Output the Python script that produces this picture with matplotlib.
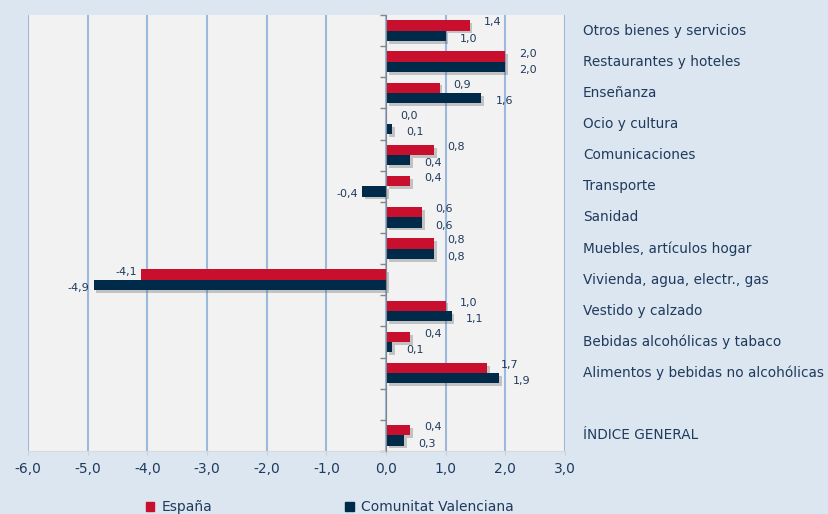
import matplotlib
matplotlib.use("Agg")
import matplotlib.pyplot as plt
import matplotlib.patheffects as pe
from matplotlib.patches import Patch
import numpy as np

categories = ["Otros bienes y servicios", "Restaurantes y hoteles", "Enseñanza",
              "Ocio y cultura", "Comunicaciones", "Transporte", "Sanidad",
              "Muebles, artículos hogar", "Vivienda, agua, electr., gas",
              "Vestido y calzado", "Bebidas alcohólicas y tabaco",
              "Alimentos y bebidas no alcohólicas", "ÍNDICE GENERAL"]
espana = [1.4, 2.0, 0.9, 0.0, 0.8, 0.4, 0.6, 0.8, -4.1, 1.0, 0.4, 1.7, 0.4]
cvalenciana = [1.0, 2.0, 1.6, 0.1, 0.4, -0.4, 0.6, 0.8, -4.9, 1.1, 0.1, 1.9, 0.3]
series_names = ["España", "Comunitat Valenciana"]
xticks = [-6, -5, -4, -3, -2, -1, 0, 1, 2, 3]

RED = "#C8102E"
NAVY = "#002A4A"
TXT = "#1F3A5C"
BG = "#DCE6F1"
PLOT_BG = "#F2F2F2"
GRID = "#9DB8DD"

plt.rcParams['font.family'] = ['DejaVu Sans']

fig = plt.figure(figsize=(8.29, 5.14), dpi=100, facecolor=BG)
ax = fig.add_axes([28/829, 1-451/514, (565-28)/829, (451-15)/514])
ax.set_facecolor(PLOT_BG)

# positions: one empty slot before ÍNDICE GENERAL
pos = np.array(list(range(12)) + [13], dtype=float)
h = 0.33

shadow = [pe.SimplePatchShadow(offset=(2, -2), alpha=0.3, shadow_rgbFace="#555555"), pe.Normal()]

b1 = ax.barh(pos - h/2, espana, height=h, color=RED, zorder=3)
b2 = ax.barh(pos + h/2, cvalenciana, height=h, color=NAVY, zorder=3)
for bars in (b1, b2):
    for r in bars:
        r.set_path_effects(shadow)

def fmt(v):
    return f"{v:.1f}".replace(".", ",")

for vals, p, dy in ((espana, pos - h/2, 2.2), (cvalenciana, pos + h/2, -2.2)):
    for v, y in zip(vals, p):
        if v >= 0:
            ax.annotate(fmt(v), (v, y), xytext=(10, dy), textcoords="offset points",
                        ha="left", va="center", fontsize=8, color=TXT, zorder=5)
        else:
            ax.annotate(fmt(v), (v, y), xytext=(-3, dy), textcoords="offset points",
                        ha="right", va="center", fontsize=8, color=TXT, zorder=5)

ax.set_xlim(-6, 3)
ax.set_ylim(13.5, -0.5)
ax.set_xticks(xticks)
ax.set_xticklabels([fmt(x) for x in xticks], fontsize=10, color=TXT)
ax.tick_params(axis="x", length=3, color="#D0D0D0", pad=5)
for x in xticks:
    ax.axvline(x, color=GRID, lw=1.5, zorder=1)

ax.set_yticks(np.arange(-0.5, 14, 1.0))
ax.set_yticklabels([])
ax.tick_params(axis="y", direction="out", length=4, color="#868686", width=1)
ax.spines['left'].set_position(('data', 0))
ax.spines['left'].set_color("#868686")
ax.spines['left'].set_zorder(4)
ax.spines['top'].set_visible(False)
ax.spines['right'].set_visible(False)
ax.spines['bottom'].set_color("#D9D9D9")

for c, y in zip(categories, pos):
    ax.annotate(c, (1, y), xycoords=("axes fraction", "data"), xytext=(18*0.72, 0),
                textcoords="offset points", ha="left", va="center",
                fontsize=9.8, color=TXT, annotation_clip=False)

handles = [Patch(color=RED), Patch(color=NAVY)]
fig.legend(handles, series_names, loc="center left", bbox_to_anchor=(146/829, 1-507/514),
           ncol=2, frameon=False, fontsize=10, handlelength=0.6, handleheight=0.6,
           handletextpad=0.5, columnspacing=9.6, labelcolor=TXT, borderpad=0,
           borderaxespad=0)

fig.savefig("out.png", dpi=100, facecolor=BG)
